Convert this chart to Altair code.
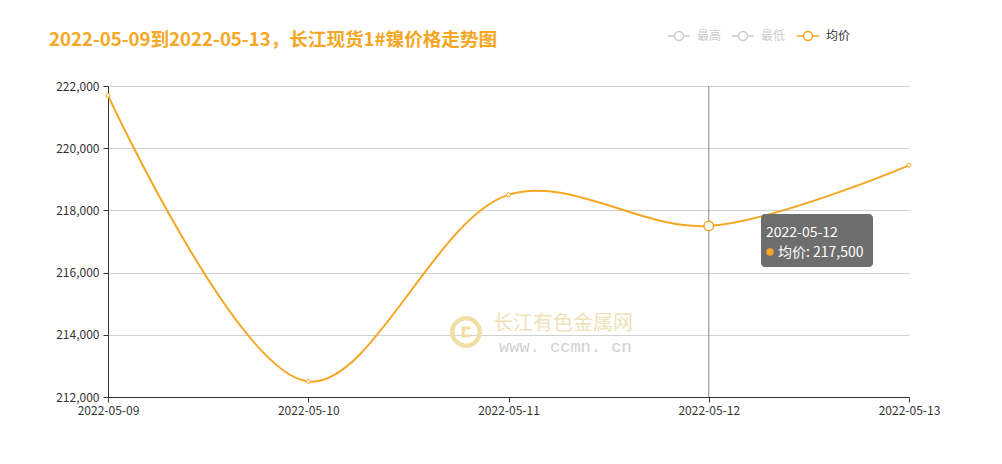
import altair as alt
import pandas as pd

dates = ["2022-05-09", "2022-05-10", "2022-05-11", "2022-05-12", "2022-05-13"]
avg_price = [221700, 212500, 218500, 217500, 219450]
y_ticks = [212000, 214000, 216000, 218000, 220000, 222000]

ORANGE = "#F5A623"
FONT = "Noto Sans CJK SC"

df = pd.DataFrame({"date": dates, "price": avg_price})
hl = df[df["date"] == "2022-05-12"]

W, H = 801, 311

x_enc = alt.X("date:O", scale=alt.Scale(type="point", padding=0),
              axis=alt.Axis(title=None, labelAngle=0, labelAlign="center", labelBaseline="top",
                            labelColor="#333", labelFontSize=12,
                            labelFont=FONT, domainColor="#333", tickColor="#333", tickSize=5,
                            labelPadding=3, grid=False))
y_enc = alt.Y("price:Q", scale=alt.Scale(domain=[212000, 222000], nice=False, zero=False),
              axis=alt.Axis(title=None, values=y_ticks, format=",.0f", labelColor="#333",
                            labelFontSize=12, labelFont=FONT, domainColor="#333", tickColor="#333",
                            tickSize=5, labelPadding=4, gridColor="#d0d0d0"))

base = alt.Chart(df)

line = base.mark_line(color=ORANGE, strokeWidth=2, interpolate="catmull-rom").encode(x=x_enc, y=y_enc)
pts = base.mark_point(shape="circle", size=16, filled=True, fill="white", stroke=ORANGE,
                      strokeWidth=1, opacity=1).encode(x=x_enc, y=y_enc)
cross = alt.Chart(hl).mark_rule(color="#888", strokeWidth=1).encode(
    x=x_enc, y=alt.value(0), y2=alt.value(H))
hl_pt = alt.Chart(hl).mark_point(shape="circle", size=90, filled=True, fill="white", stroke=ORANGE,
                                 strokeWidth=1.5, opacity=1).encode(x=x_enc, y=y_enc)

# tooltip
tip_box = alt.Chart(hl).mark_rect(color="#6e6e6e", cornerRadius=4).encode(
    x=alt.value(653), x2=alt.value(765), y=alt.value(128), y2=alt.value(181))
tip_t1 = alt.Chart(hl).mark_text(align="left", baseline="alphabetic", color="white", fontSize=14,
                                 font=FONT).encode(x=alt.value(658), y=alt.value(151),
                                                   text="date:N")
tip_dot = alt.Chart(hl).mark_point(shape="circle", filled=True, color=ORANGE, size=55, opacity=1).encode(
    x=alt.value(662), y=alt.value(166))
tip_t2 = alt.Chart(hl).transform_calculate(
    lbl="'均价: ' + format(datum.price, ',')").mark_text(
    align="left", baseline="alphabetic", color="white", fontSize=14, font=FONT).encode(
    x=alt.value(670), y=alt.value(171), text="lbl:N")

# title
title = alt.Chart(hl).mark_text(align="left", baseline="alphabetic", color=ORANGE, fontSize=18.6,
                                fontWeight="bold", font=FONT).encode(
    x=alt.value(-59), y=alt.value(-40), text=alt.value("2022-05-09到2022-05-13，长江现货1#镍价格走势图"))

# legend
legend_layers = []
items = [("最高", "#cccccc", "#cccccc", 560), ("最低", "#cccccc", "#cccccc", 624), ("均价", ORANGE, "#333333", 689)]
for name, c, tc, x0 in items:
    legend_layers.append(alt.Chart(hl).mark_rule(color=c, strokeWidth=1.5).encode(
        x=alt.value(x0), x2=alt.value(x0 + 22), y=alt.value(-50)))
    legend_layers.append(alt.Chart(hl).mark_point(shape="circle", size=80, filled=True, fill="white",
                                                  stroke=c, strokeWidth=1.5, opacity=1).encode(
        x=alt.value(x0 + 11), y=alt.value(-50)))
    legend_layers.append(alt.Chart(hl).mark_text(align="left", baseline="middle", color=tc, fontSize=12,
                                                 font=FONT).encode(
        x=alt.value(x0 + 29), y=alt.value(-50), text=alt.value(name)))

# watermark
wm_ring = alt.Chart(hl).mark_point(shape="circle", size=750, filled=False, stroke="#f0e0a8",
                                   strokeWidth=4.5, opacity=1).encode(x=alt.value(358), y=alt.value(246))
wm_c = alt.Chart(hl).mark_point(
    shape="M0.8,-1 L-0.8,-1 L-0.8,1 L0.8,1 L0.8,0.45 L-0.2,0.45 L-0.2,-0.45 L0.8,-0.45 Z",
    size=120, filled=True, color="#f0e0a8", opacity=1).encode(x=alt.value(358), y=alt.value(246))
wm_t1 = alt.Chart(hl).mark_text(align="left", baseline="middle", color="#efe2b8", fontSize=20,
                                font=FONT).encode(x=alt.value(385), y=alt.value(238),
                                                  text=alt.value("长江有色金属网"))
wm_t2 = alt.Chart(hl).mark_text(align="left", baseline="middle", color="#d0d0d0", fontSize=17,
                                font="Liberation Mono").encode(x=alt.value(391), y=alt.value(261),
                                                               text=alt.value("www. ccmn. cn"))

chart = alt.layer(
    wm_ring, wm_c, wm_t1, wm_t2,
    cross, line, pts, hl_pt,
    tip_box, tip_t1, tip_dot, tip_t2,
    title, *legend_layers
).properties(
    width=W, height=H,
    autosize=alt.AutoSizeParams(type="none"),
    padding={"left": 108, "top": 86, "right": 93, "bottom": 67},
    background="white"
).configure_view(stroke=None)

chart.save("out.html", embed_options={"renderer": "svg", "actions": False})
